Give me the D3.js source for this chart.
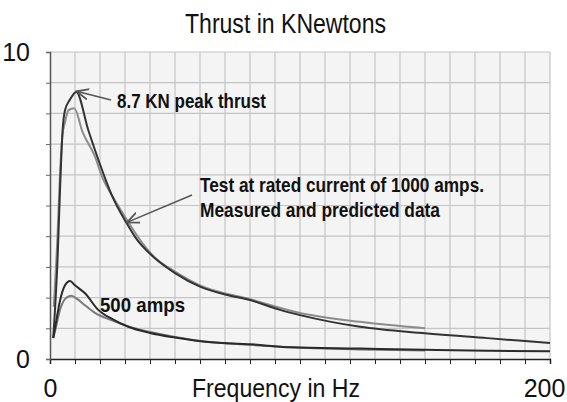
<!DOCTYPE html>
<html>
<head>
<meta charset="utf-8">
<script src="https://cdn.jsdelivr.net/npm/d3@7"></script>
<style>
  body { margin: 0; background: #fff; }
  svg { display: block; }
</style>
</head>
<body>
<svg id="chart" width="567" height="402"></svg>
<script>
'use strict'

// values (frequency in Hz, thrust in kN)
let freq1000Measured = [1.3, 3, 4, 5, 6, 8, 10.5, 15.3, 21.3, 24.7, 30.7, 34, 42, 50, 60, 70, 80, 92, 100, 124, 150, 175, 200]
let thrust1000Measured = [0.7, 3.2, 5.5, 7.4, 8.1, 8.45, 8.7, 7.46, 6.05, 5.34, 4.42, 3.98, 3.28, 2.8, 2.36, 2.1, 1.92, 1.6, 1.43, 1.05, 0.84, 0.68, 0.52]

let freq1000Predicted = [1.5, 3, 4, 5, 6, 7.3, 9.7, 13, 18, 21, 25, 31, 35, 42, 50, 60, 80, 100, 124, 150]
let thrust1000Predicted = [1.7, 4.0, 6.0, 7.3, 7.7, 8.1, 8.17, 7.4, 6.59, 5.9, 5.3, 4.5, 4.0, 3.3, 2.85, 2.4, 1.95, 1.5, 1.21, 1.0]

let freq500Measured = [1.3, 2, 4, 6, 8, 10, 14, 19.3, 25, 31.3, 40, 50, 62, 84, 96, 124, 150, 175, 200]
let thrust500Measured = [0.68, 1.0, 1.9, 2.4, 2.54, 2.4, 2.14, 1.6, 1.3, 1.05, 0.85, 0.7, 0.56, 0.46, 0.38, 0.34, 0.3, 0.27, 0.25]

let freq500Predicted = [1.3, 2, 4, 6, 8.5, 11, 14, 18, 25, 31, 40, 50, 62, 84, 96, 124, 150]
let thrust500Predicted = [0.68, 0.9, 1.6, 1.95, 2.06, 1.95, 1.75, 1.5, 1.25, 1.07, 0.88, 0.72, 0.57, 0.44, 0.38, 0.31, 0.28]

let xTicks = [0, 200]
let yTicks = [0, 10]

let svg = d3.select('#chart')
let padding = {top: 52, left: 50, right: 17, bottom: 43}
let width = 567, height = 402

let xScale = d3.scaleLinear().domain([0, 200]).range([padding.left, width - padding.right])
let yScale = d3.scaleLinear().domain([0, 10]).range([height - padding.bottom, padding.top])

// plot background
svg.append('rect')
  .attr('x', xScale(0)).attr('y', yScale(10))
  .attr('width', xScale(200) - xScale(0)).attr('height', yScale(0) - yScale(10))
  .attr('fill', '#f4f4f4')

// grid
let grid = svg.append('g')
grid.selectAll('.vgrid').data(d3.range(10, 201, 10)).enter().append('line')
  .attr('x1', d => xScale(d)).attr('x2', d => xScale(d))
  .attr('y1', yScale(0)).attr('y2', yScale(10))
  .attr('stroke', '#c4c4c4').attr('stroke-width', 1.2)
grid.selectAll('.hgrid').data(d3.range(1, 11, 1)).enter().append('line')
  .attr('x1', xScale(0)).attr('x2', xScale(200))
  .attr('y1', d => yScale(d)).attr('y2', d => yScale(d))
  .attr('stroke', '#c4c4c4').attr('stroke-width', 1.2)

// axes
let xAxis = svg.append('g')
  .attr('transform', 'translate(0,' + yScale(0) + ')')
  .call(d3.axisBottom(xScale).tickValues(d3.range(0, 201, 10)).tickSize(5).tickPadding(15)
    .tickFormat(d => xTicks.includes(d) ? d : ''))
xAxis.select('.domain').attr('stroke', '#222').attr('stroke-width', 1.5)
xAxis.selectAll('.tick line').attr('stroke', '#222')
xAxis.selectAll('text').attr('font-family', 'Liberation Sans, Arial, sans-serif')
  .attr('font-size', 25).attr('fill', '#111')
xAxis.selectAll('text').filter(d => d == 200).attr('dx', -6)

let yAxis = svg.append('g')
  .attr('transform', 'translate(' + xScale(0) + ',0)')
  .call(d3.axisLeft(yScale).tickValues(d3.range(0, 11, 1)).tickSize(4).tickPadding(16)
    .tickFormat(d => yTicks.includes(d) ? d : ''))
yAxis.select('.domain').attr('stroke', '#555').attr('stroke-width', 1.5)
yAxis.selectAll('.tick line').attr('stroke', '#666')
yAxis.selectAll('text').attr('font-family', 'Liberation Sans, Arial, sans-serif')
  .attr('font-size', 25).attr('fill', '#111')

// lines
let line = d3.line()
  .x(d => xScale(d[0]))
  .y(d => yScale(d[1]))
  .curve(d3.curveMonotoneX)

let series = [
  {f: freq1000Predicted, v: thrust1000Predicted, color: '#8c8c8c'},
  {f: freq500Predicted, v: thrust500Predicted, color: '#7a7a7a'},
  {f: freq1000Measured, v: thrust1000Measured, color: '#333'},
  {f: freq500Measured, v: thrust500Measured, color: '#2a2a2a'}
]
svg.selectAll('.series').data(series).enter().append('path')
  .attr('fill', 'none')
  .attr('stroke', d => d.color)
  .attr('stroke-width', 2)
  .attr('stroke-linejoin', 'round')
  .attr('d', d => line(d.f.map((f, i) => [f, d.v[i]])))

// title and axis label
svg.append('text').text('Thrust in KNewtons')
  .attr('x', 185).attr('y', 33)
  .attr('textLength', 201).attr('lengthAdjust', 'spacingAndGlyphs')
  .attr('font-family', 'Liberation Sans, Arial, sans-serif').attr('font-size', 27).attr('fill', '#111')

svg.append('text').text('Frequency in Hz')
  .attr('x', 192).attr('y', 397)
  .attr('textLength', 168).attr('lengthAdjust', 'spacingAndGlyphs')
  .attr('font-family', 'Liberation Sans, Arial, sans-serif').attr('font-size', 26).attr('fill', '#111')

// annotations
svg.append('defs').append('marker')
  .attr('id', 'arrow').attr('viewBox', '0 0 10 10')
  .attr('refX', 9).attr('refY', 5)
  .attr('markerWidth', 9).attr('markerHeight', 9)
  .attr('orient', 'auto-start-reverse')
  .append('path').attr('d', 'M0,1 L9,5 L0,9')
  .attr('fill', 'none').attr('stroke', '#555').attr('stroke-width', 1.3)

function annotate(x1, y1, f, v){
  svg.append('line')
    .attr('x1', x1).attr('y1', y1)
    .attr('x2', xScale(f)).attr('y2', yScale(v))
    .attr('stroke', '#555').attr('stroke-width', 1.5)
    .attr('marker-end', 'url(#arrow)')
}
annotate(111, 100, 10.6, 8.72)
annotate(192, 195, 30.8, 4.45)

let notes = [
  ['8.7 KN peak thrust', 117, 108, 149],
  ['Test at rated current of 1000 amps.', 200, 192, 284],
  ['Measured and predicted data', 200, 217, 240],
  ['500 amps', 100, 312, 85]
]
svg.selectAll('.note').data(notes).enter().append('text')
  .text(d => d[0])
  .attr('x', d => d[1]).attr('y', d => d[2])
  .attr('textLength', d => d[3]).attr('lengthAdjust', 'spacingAndGlyphs')
  .attr('font-family', 'Liberation Sans, Arial, sans-serif')
  .attr('font-weight', 'bold').attr('font-size', 21).attr('fill', '#111')
</script>
</body>
</html>
